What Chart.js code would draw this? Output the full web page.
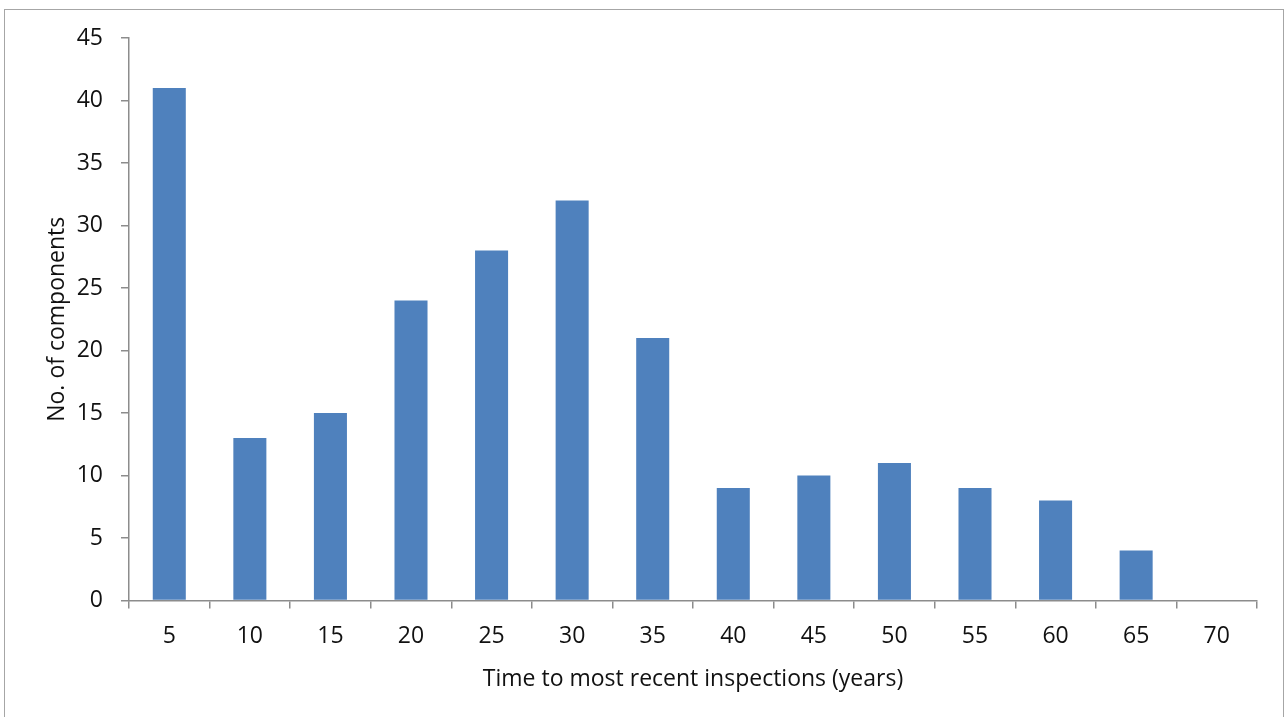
<!DOCTYPE html>
<html>
<head>
<meta charset="utf-8">
<script src="https://cdn.jsdelivr.net/npm/chart.js@4.4.1/dist/chart.umd.min.js"></script>
<style>
  html, body { margin: 0; padding: 0; background: #fff; }
  #wrap { position: relative; width: 1287px; height: 717px; overflow: hidden; }
  #frame { position: absolute; left: 4px; top: 9px; width: 1280px; height: 720px;
           border: 1px solid #a6a6a6; box-sizing: border-box; }
  #chart { position: absolute; left: 0; top: 0; }
</style>
</head>
<body>
<div id="wrap">
  <div id="frame"></div>
  <canvas id="chart" width="1287" height="717"></canvas>
</div>
<script>
// Years since the most recent inspection, in 5-year bins
const categories = ['5', '10', '15', '20', '25', '30', '35', '40', '45', '50', '55', '60', '65', '70'];
// Number of components in each bin
const componentCounts = [41, 13, 15, 24, 28, 32, 21, 9, 10, 11, 9, 8, 4, 0];
const yTicks = [0, 5, 10, 15, 20, 25, 30, 35, 40, 45];

const xTitle = 'Time to most recent inspections (years)';
const yTitle = 'No. of components';

const FONT = '"Open Sans", sans-serif';
const AXIS_GREY = '#8c8c8c';
const TEXT = '#111111';

new Chart(document.getElementById('chart'), {
  type: 'bar',
  data: {
    labels: categories,
    datasets: [{
      data: componentCounts,
      backgroundColor: '#4f81bd',
      borderWidth: 0,
      categoryPercentage: 1.0,
      barPercentage: 0.41
    }]
  },
  options: {
    responsive: false,
    animation: false,
    layout: { padding: { left: 44, right: 30, top: 38, bottom: 24 } },
    plugins: { legend: { display: false }, tooltip: { enabled: false } },
    scales: {
      x: {
        offset: true,
        grid: { offset: true, drawOnChartArea: false, drawTicks: true, tickLength: 8, color: AXIS_GREY, lineWidth: 1.5 },
        border: { display: true, color: AXIS_GREY, width: 1.5 },
        ticks: { color: TEXT, font: { family: FONT, size: 23 }, padding: 14, maxRotation: 0 },
        title: { display: true, text: xTitle, color: TEXT, font: { family: FONT, size: 23 }, padding: { top: 0, bottom: 0 } },
        afterFit: (s) => { s.height = 717 - 600.5 - 24; }
      },
      y: {
        min: 0, max: 45,
        afterBuildTicks: (s) => { s.ticks = yTicks.map(v => ({ value: v })); },
        grid: { drawOnChartArea: false, drawTicks: true, tickLength: 8, color: AXIS_GREY, lineWidth: 1.5 },
        border: { display: true, color: AXIS_GREY, width: 1.5 },
        ticks: { color: TEXT, font: { family: FONT, size: 23 }, padding: 18 },
        title: { display: true, text: yTitle, color: TEXT, font: { family: FONT, size: 23 }, padding: { top: 0, bottom: 0 } },
        afterFit: (s) => { s.width = 129 - 44; }
      }
    }
  }
});
</script>
</body>
</html>
